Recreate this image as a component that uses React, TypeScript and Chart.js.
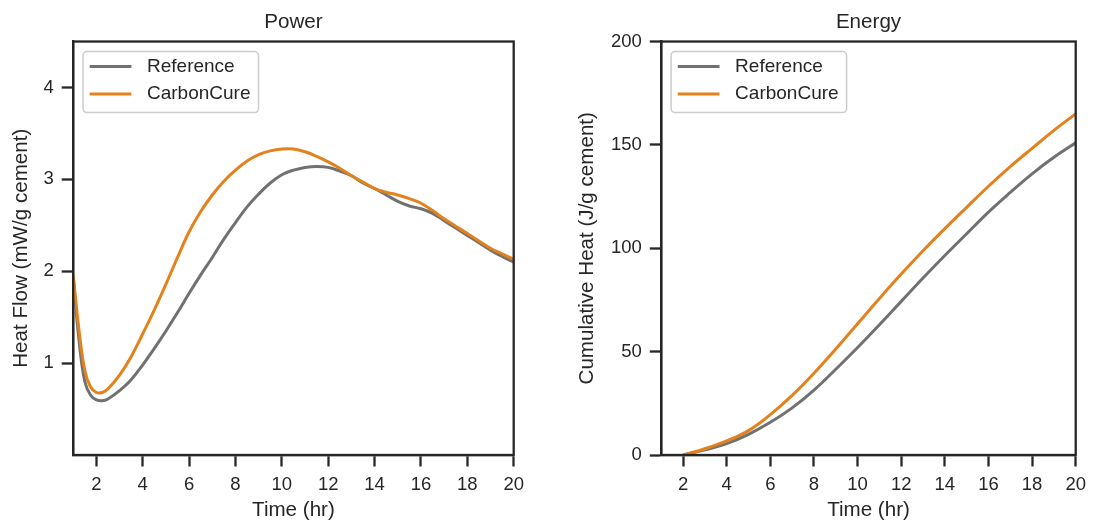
import React, { useEffect, useRef } from 'react';
import { Chart, registerables } from 'chart.js';

Chart.register(...registerables);

const FONT = "'Liberation Sans', Arial, sans-serif";
const TEXT = '#262626';
const GRAY = '#717171';
const ORANGE = '#e3821d';

// ---- Power (heat flow) ----
const powerTime = [1, 1.25, 1.5, 1.75, 2, 2.25, 2.5, 3, 3.5, 4, 4.5, 5, 5.5, 6, 6.5, 7, 7.5, 8, 8.5, 9, 9.5, 10, 10.5, 11, 11.5, 12, 12.5, 13, 13.5, 14, 14.5, 15, 15.5, 16, 16.5, 17, 17.5, 18, 18.5, 19, 19.5, 20];
const powerReference = [1.93, 1.25, 0.8, 0.65, 0.6, 0.59, 0.61, 0.7, 0.82, 0.98, 1.16, 1.35, 1.55, 1.76, 1.96, 2.15, 2.35, 2.53, 2.7, 2.84, 2.96, 3.05, 3.1, 3.13, 3.14, 3.13, 3.09, 3.04, 2.96, 2.9, 2.83, 2.76, 2.71, 2.68, 2.63, 2.55, 2.47, 2.39, 2.31, 2.23, 2.16, 2.1];
const powerCarbonCure = [1.96, 1.36, 0.92, 0.74, 0.68, 0.68, 0.72, 0.87, 1.07, 1.32, 1.58, 1.86, 2.15, 2.43, 2.65, 2.83, 2.98, 3.1, 3.2, 3.27, 3.31, 3.33, 3.33, 3.3, 3.25, 3.19, 3.12, 3.04, 2.97, 2.9, 2.86, 2.83, 2.79, 2.74, 2.66, 2.57, 2.49, 2.41, 2.33, 2.25, 2.19, 2.13];

// ---- Energy (cumulative heat) ----
const energyTime = [2, 3, 4, 5, 6, 7, 8, 9, 10, 11, 12, 13, 14, 15, 16, 17, 18, 19, 20];
const energyReference = [0, 2.5, 5.5, 10, 15.8, 22.8, 31.4, 41.5, 52, 63, 74.3, 85.6, 96.5, 107, 117.5, 127, 136, 144, 151];
const energyCarbonCure = [0, 3, 6.8, 11.8, 19.5, 28.8, 39.5, 51.3, 63.5, 75.7, 87.5, 98.8, 109.5, 119.8, 130, 139.5, 148.3, 157, 165];

const timeTicks = [2, 4, 6, 8, 10, 12, 14, 16, 18, 20];
const powerTicks = [1, 2, 3, 4];
const energyTicks = [0, 50, 100, 150, 200];

const seriesNames = ['Reference', 'CarbonCure'];

const SPINE = 2.3;
const LINE = 3;

const frameLegendPlugin = {
  id: 'frameLegend',
  afterDatasetsDraw(chart: any) {
    const { ctx, chartArea: a } = chart;
    ctx.save();
    ctx.strokeStyle = TEXT;
    ctx.lineWidth = SPINE;
    ctx.strokeRect(a.left, a.top, a.right - a.left, a.bottom - a.top);
    ctx.font = `19px ${FONT}`;
    const items = chart.data.datasets.map((d: any) => ({ label: d.label, color: d.borderColor }));
    const tw = Math.max(...items.map((it: any) => ctx.measureText(it.label).width));
    const bx = a.left + 9.8;
    const by = a.top + 10;
    const bw = 64 + tw + 8;
    const bh = 61;
    ctx.beginPath();
    if ((ctx as any).roundRect) (ctx as any).roundRect(bx, by, bw, bh, 4);
    else ctx.rect(bx, by, bw, bh);
    ctx.fillStyle = 'rgba(255,255,255,0.8)';
    ctx.fill();
    ctx.strokeStyle = '#cccccc';
    ctx.lineWidth = 1.5;
    ctx.stroke();
    items.forEach((it: any, i: number) => {
      const y = by + 15 + i * 27.6;
      ctx.beginPath();
      ctx.strokeStyle = it.color;
      ctx.lineWidth = LINE;
      ctx.lineCap = 'butt';
      ctx.moveTo(bx + 6.7, y);
      ctx.lineTo(bx + 48.4, y);
      ctx.stroke();
      ctx.fillStyle = TEXT;
      ctx.textBaseline = 'middle';
      ctx.textAlign = 'left';
      ctx.fillText(it.label, bx + 64, y);
    });
    ctx.restore();
  },
};

function makeConfig(p: {
  time: number[];
  ref: number[];
  cc: number[];
  yMin: number;
  yMax: number;
  yTicks: number[];
  yTitle: string;
  title: string;
  yWidth: number;
  padRight: number;
  yTitlePad: number;
}): any {
  const tickFont = { family: FONT, size: 18.5 };
  const labelFont = { family: FONT, size: 20.6, weight: 'normal' as const };
  const lineDs = (label: string, data: number[], color: string, order: number) => ({
    label,
    data: p.time.map((t, i) => ({ x: t, y: data[i] })),
    borderColor: color,
    borderWidth: LINE,
    pointRadius: 0,
    tension: 0.4,
    fill: false,
    order,
  });
  return {
    type: 'line',
    data: {
      datasets: [lineDs(seriesNames[0], p.ref, GRAY, 1), lineDs(seriesNames[1], p.cc, ORANGE, 0)],
    },
    options: {
      responsive: false,
      animation: false,
      devicePixelRatio: 1,
      layout: { padding: { left: 0, right: p.padRight, top: 0, bottom: 0 } },
      plugins: {
        legend: { display: false },
        tooltip: { enabled: false },
        title: {
          display: true,
          text: p.title,
          color: TEXT,
          font: labelFont,
          padding: { top: 9.8, bottom: 7.0 },
          fullSize: false,
        },
      },
      scales: {
        x: {
          type: 'linear',
          min: 1,
          max: 20,
          afterBuildTicks: (s: any) => {
            s.ticks = timeTicks.map((v) => ({ value: v }));
          },
          afterFit: (s: any) => {
            s.height = 68;
          },
          grid: { drawOnChartArea: false, drawTicks: true, tickLength: 11.5, tickWidth: SPINE, tickColor: TEXT },
          border: { display: true, color: TEXT, width: SPINE },
          ticks: { color: TEXT, font: tickFont, padding: 7, maxRotation: 0, autoSkip: false, callback: (v: any) => String(v) },
          title: { display: true, text: 'Time (hr)', color: TEXT, font: labelFont, padding: { top: 0, bottom: 0 } },
        },
        y: {
          type: 'linear',
          min: p.yMin,
          max: p.yMax,
          afterBuildTicks: (s: any) => {
            s.ticks = p.yTicks.map((v) => ({ value: v }));
          },
          afterFit: (s: any) => {
            s.width = p.yWidth;
          },
          grid: { drawOnChartArea: false, drawTicks: true, tickLength: 11.5, tickWidth: SPINE, tickColor: TEXT },
          border: { display: true, color: TEXT, width: SPINE },
          ticks: { color: TEXT, font: tickFont, padding: 8, autoSkip: false, callback: (v: any) => String(v) },
          title: { display: true, text: p.yTitle, color: TEXT, font: labelFont, padding: { top: p.yTitlePad, bottom: 0 } },
        },
      },
    },
    plugins: [frameLegendPlugin],
  };
}

export default function App() {
  const r1 = useRef<HTMLCanvasElement>(null);
  const r2 = useRef<HTMLCanvasElement>(null);
  useEffect(() => {
    const c1 = new Chart(
      r1.current as HTMLCanvasElement,
      makeConfig({
        time: powerTime,
        ref: powerReference,
        cc: powerCarbonCure,
        yMin: 0,
        yMax: 4.5,
        yTicks: powerTicks,
        yTitle: 'Heat Flow (mW/g cement)',
        title: 'Power',
        yWidth: 73.2,
        padRight: 32.3,
        yTitlePad: 8.7,
      })
    );
    const c2 = new Chart(
      r2.current as HTMLCanvasElement,
      makeConfig({
        time: energyTime,
        ref: energyReference,
        cc: energyCarbonCure,
        yMin: 0,
        yMax: 200,
        yTicks: energyTicks,
        yTitle: 'Cumulative Heat (J/g cement)',
        title: 'Energy',
        yWidth: 115.3,
        padRight: 13.7,
        yTitlePad: 29.2,
      })
    );
    return () => {
      c1.destroy();
      c2.destroy();
    };
  }, []);
  return (
    <div style={{ position: 'fixed', left: 0, top: 0, width: 1093, height: 523, background: '#ffffff' }}>
      <canvas ref={r1} width={546} height={523} style={{ position: 'absolute', left: 0, top: 0 }} />
      <canvas ref={r2} width={547} height={523} style={{ position: 'absolute', left: 546, top: 0 }} />
    </div>
  );
}
